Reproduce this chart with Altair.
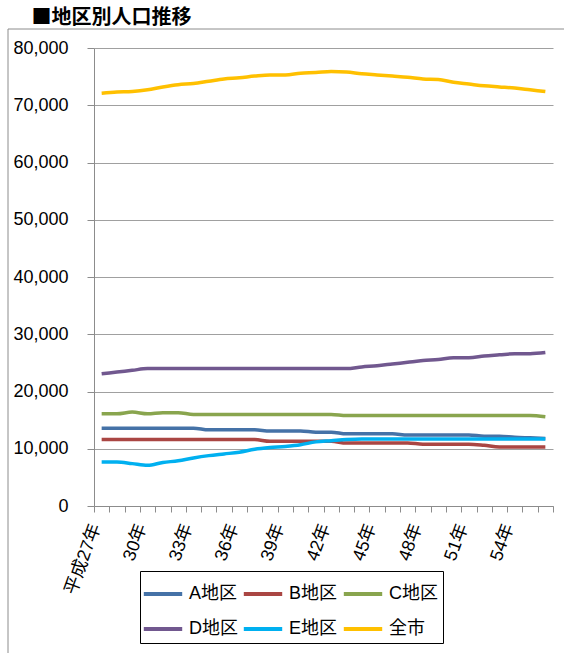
import json
import altair as alt
import pandas as pd

# Year categories (Heisei 27 .. 56) and the ones that carry a label
years = ["平成27年", "28年", "29年", "30年", "31年", "32年", "33年", "34年", "35年", "36年",
         "37年", "38年", "39年", "40年", "41年", "42年", "43年", "44年", "45年", "46年",
         "47年", "48年", "49年", "50年", "51年", "52年", "53年", "54年", "55年", "56年"]
labelled_years = ["平成27年", "30年", "33年", "36年", "39年", "42年", "45年", "48年", "51年", "54年"]

district_a = [13600, 13600, 13600, 13600, 13600, 13600, 13600, 13300, 13300, 13300,
              13300, 13100, 13100, 13100, 12900, 12900, 12600, 12600, 12600, 12600,
              12400, 12400, 12400, 12400, 12400, 12200, 12200, 12000, 11900, 11800]
district_b = [11600, 11600, 11600, 11600, 11600, 11600, 11600, 11600, 11600, 11600,
              11600, 11300, 11300, 11300, 11300, 11300, 11000, 11000, 11000, 11000,
              11000, 10800, 10800, 10800, 10800, 10600, 10300, 10300, 10300, 10300]
district_c = [16100, 16100, 16400, 16100, 16300, 16300, 16000, 16000, 16000, 16000,
              16000, 16000, 16000, 16000, 16000, 16000, 15800, 15800, 15800, 15800,
              15800, 15800, 15800, 15800, 15800, 15800, 15800, 15800, 15800, 15600]
district_d = [23100, 23400, 23700, 24000, 24000, 24000, 24000, 24000, 24000, 24000,
              24000, 24000, 24000, 24000, 24000, 24000, 24000, 24300, 24500, 24800,
              25100, 25400, 25600, 25900, 25900, 26200, 26400, 26600, 26600, 26800]
district_e = [7700, 7700, 7400, 7100, 7600, 7900, 8400, 8800, 9100, 9400,
              9900, 10200, 10400, 10700, 11200, 11400, 11600, 11700, 11700, 11700,
              11700, 11700, 11700, 11700, 11700, 11700, 11700, 11700, 11700, 11700]
whole_city = [72100, 72300, 72400, 72700, 73200, 73600, 73800, 74200, 74600, 74800,
              75100, 75300, 75300, 75600, 75700, 75900, 75800, 75500, 75300, 75100,
              74900, 74600, 74500, 74000, 73700, 73400, 73200, 73000, 72700, 72400]

series_names = ["A地区", "B地区", "C地区", "D地区", "E地区", "全市"]
series_colors = ["#4572A7", "#AA4643", "#89A54E", "#71588F", "#00B0F0", "#FFC000"]
y_ticks = [0, 10000, 20000, 30000, 40000, 50000, 60000, 70000, 80000]

all_series = [district_a, district_b, district_c, district_d, district_e, whole_city]
rows = []
for name, values in zip(series_names, all_series):
    for yr, v in zip(years, values):
        rows.append({"年": yr, "地区": name, "人口": v})
df = pd.DataFrame(rows)

LATIN = "Liberation Sans, Noto Sans CJK JP"
CJK = "Noto Sans CJK JP"
GRAY = "#8c8c8c"

label_expr = ("indexof(" + json.dumps(labelled_years, ensure_ascii=False)
              + ", datum.label) >= 0 ? datum.label : ''")

lines = alt.Chart(df).mark_line(strokeWidth=3.5, interpolate="monotone").encode(
    x=alt.X("年:O", sort=years,
            scale=alt.Scale(type="band", paddingInner=0, paddingOuter=0),
            axis=alt.Axis(title=None, labelAngle=-70, labelAlign="right",
                          labelBaseline="middle", labelExpr=label_expr,
                          labelOverlap=False, labelFontSize=18, labelFont=LATIN,
                          labelColor="black", labelPadding=12, labelOffset=-6,
                          tickBand="extent", tickSize=6, tickColor=GRAY,
                          domainColor=GRAY, grid=False)),
    y=alt.Y("人口:Q", scale=alt.Scale(domain=[0, 80000], nice=False),
            axis=alt.Axis(title=None, values=y_ticks, format=",d", labelFontSize=18,
                          labelFont=LATIN, labelColor="black", labelPadding=19,
                          tickSize=7, tickColor=GRAY, domainColor=GRAY,
                          gridColor="#a0a0a0")),
    color=alt.Color("地区:N", sort=series_names,
                    scale=alt.Scale(domain=series_names, range=series_colors),
                    legend=alt.Legend(title=None, orient="none", direction="horizontal",
                                      legendX=46, legendY=523, columns=3,
                                      symbolType="M-1.2,0H1.2", symbolSize=1024,
                                      symbolStrokeWidth=4, labelFontSize=18,
                                      labelFont=LATIN, labelColor="black",
                                      labelOffset=8, columnPadding=-3, rowPadding=8,
                                      padding=5, strokeColor="black",
                                      fillColor="white")),
)

one = pd.DataFrame({"k": [0]})
frame_top = alt.Chart(one).mark_rule(color=GRAY, strokeWidth=1).encode(
    x=alt.value(-86), x2=alt.value(480), y=alt.value(-19))
frame_left = alt.Chart(one).mark_rule(color=GRAY, strokeWidth=1).encode(
    x=alt.value(-86), y=alt.value(-19), y2=alt.value(620))

chart = alt.layer(frame_top, frame_left, lines).properties(
    width=459, height=458,
    autosize=alt.AutoSizeParams(type="none"),
    padding={"left": 94, "top": 48, "right": 11, "bottom": 147},
    title=alt.TitleParams("■地区別人口推移", anchor="start", font=CJK, fontSize=20,
                          fontWeight="bold", color="black", dx=24, offset=1),
).configure_view(stroke=None)

chart.save("out.html", embed_options={"renderer": "svg", "actions": False})
